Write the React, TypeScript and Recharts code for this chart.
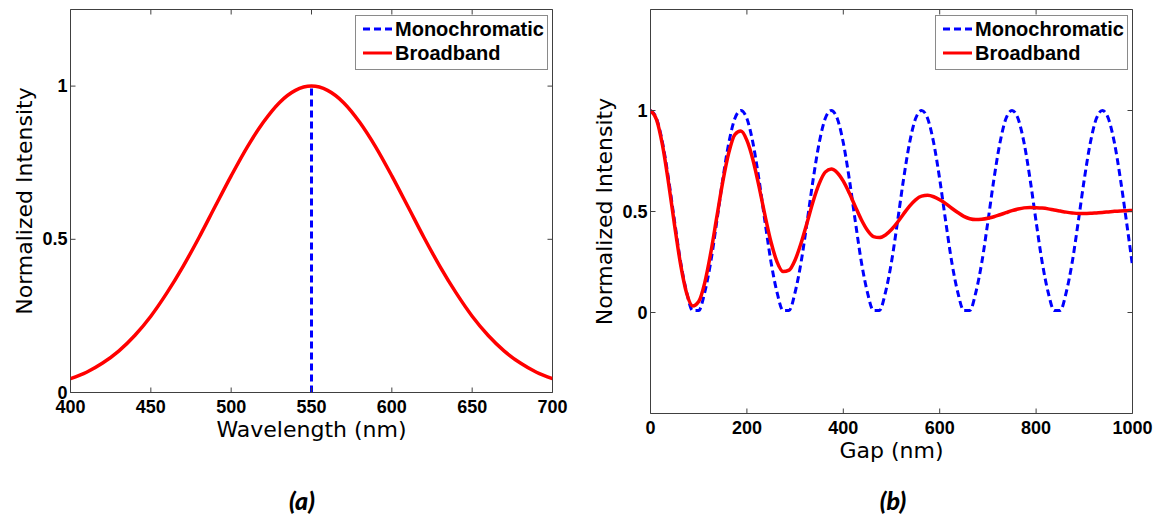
import React from 'react'
import { LineChart, Line, XAxis, YAxis, ReferenceArea, Legend } from 'recharts'

// (a) spectrum
const wavelength = [400, 410, 420, 430, 440, 450, 460, 470, 480, 490, 500, 510, 520, 530, 540, 550,
  560, 570, 580, 590, 600, 610, 620, 630, 640, 650, 660, 670, 680, 690, 700]
const broadbandSpectrum = [0.045, 0.066, 0.096, 0.135, 0.186, 0.249, 0.325, 0.411, 0.506, 0.607, 0.707,
  0.801, 0.882, 0.946, 0.986, 1.0, 0.986, 0.946, 0.882, 0.801, 0.707, 0.607, 0.506, 0.411, 0.325, 0.249,
  0.186, 0.135, 0.096, 0.066, 0.045]
const monoWavelength = [550, 550]
const monoSpectrum = [0, 1]
const wavelengthTicks = [400, 450, 500, 550, 600, 650, 700]

// (b) fringes vs gap
const gap = [0, 12.5, 25, 37.5, 50, 62.5, 75, 87.5, 100, 112.5, 125, 137.5, 150, 162.5, 175, 187.5,
  200, 212.5, 225, 237.5, 250, 262.5, 275, 287.5, 300, 312.5, 325, 337.5, 350, 362.5, 375, 387.5,
  400, 412.5, 425, 437.5, 450, 462.5, 475, 487.5, 500, 512.5, 525, 537.5, 550, 562.5, 575, 587.5,
  600, 612.5, 625, 637.5, 650, 662.5, 675, 687.5, 700, 712.5, 725, 737.5, 750, 762.5, 775, 787.5,
  800, 812.5, 825, 837.5, 850, 862.5, 875, 887.5, 900, 912.5, 925, 937.5, 950, 962.5, 975, 987.5, 1000]
const monoFringe = [
  1, 0.96, 0.84, 0.66, 0.45, 0.25, 0.1, 0.01, 0.01, 0.1, 0.25, 0.45, 0.66, 0.84, 0.96,
  1, 0.96, 0.84, 0.66, 0.45, 0.25, 0.1, 0.01, 0.01, 0.1, 0.25, 0.45, 0.66, 0.84, 0.96,
  1, 0.96, 0.84, 0.66, 0.45, 0.25, 0.1, 0.01, 0.01, 0.1, 0.25, 0.45, 0.66, 0.84, 0.96,
  1, 0.96, 0.84, 0.66, 0.45, 0.25, 0.1, 0.01, 0.01, 0.1, 0.25, 0.45, 0.66, 0.84, 0.96,
  1, 0.96, 0.84, 0.66, 0.45, 0.25, 0.1, 0.01, 0.01, 0.1, 0.25, 0.45, 0.66, 0.84, 0.96,
  1, 0.96, 0.84, 0.66, 0.45, 0.23]
const broadbandFringe = [
  1.0, 0.955, 0.827, 0.64, 0.431, 0.237, 0.095, 0.032, 0.054, 0.147, 0.295, 0.472, 0.648, 0.792, 0.881, 0.898,
  0.852, 0.756, 0.625, 0.481, 0.349, 0.251, 0.203, 0.21, 0.26, 0.344, 0.446, 0.551, 0.638, 0.695, 0.71, 0.692,
  0.65, 0.591, 0.524, 0.459, 0.407, 0.376, 0.371, 0.384, 0.411, 0.447, 0.488, 0.527, 0.558, 0.576, 0.58, 0.573,
  0.558, 0.539, 0.516, 0.495, 0.476, 0.464, 0.46, 0.462, 0.467, 0.474, 0.484, 0.494, 0.504, 0.512, 0.518, 0.52,
  0.519, 0.517, 0.513, 0.507, 0.502, 0.497, 0.493, 0.49, 0.49, 0.491, 0.493, 0.495, 0.498, 0.501, 0.503, 0.504, 0.505]
const gapTicks = [0, 200, 400, 600, 800, 1000]
const intensityTicks = [0, 0.5, 1]
const seriesNames = ['Monochromatic', 'Broadband']

const FONT = '"Liberation Sans", Arial, sans-serif'
const TITLE_FONT = '"DejaVu Sans", sans-serif'
const AXIS = '#404040'
const BLUE = '#0000ff'
const RED = '#ff0000'

function XTick({ x, y, payload, top }: any) {
  return (
    <g>
      <line x1={x} x2={x} y1={y} y2={y - 5} stroke={AXIS} />
      <line x1={x} x2={x} y1={top} y2={top + 5} stroke={AXIS} />
      <text x={x} y={y + 20} textAnchor="middle" fontFamily={FONT} fontWeight="bold" fontSize={18} fill="#000">
        {payload.value}
      </text>
    </g>
  )
}

function YTick({ x, y, payload, right }: any) {
  return (
    <g>
      <line x1={x} x2={x + 5} y1={y} y2={y} stroke={AXIS} />
      <line x1={right} x2={right - 5} y1={y} y2={y} stroke={AXIS} />
      <text x={x - 3} y={y + 6} textAnchor="end" fontFamily={FONT} fontWeight="bold" fontSize={18} fill="#000">
        {payload.value}
      </text>
    </g>
  )
}

const xTitle = (text: string, dy: number) => (props: any) => {
  const vb = props.viewBox
  return (
    <text x={vb.x + vb.width / 2} y={vb.y + dy} textAnchor="middle" fontFamily={TITLE_FONT} fontSize={22} fill="#000">
      {text}
    </text>
  )
}

const yTitle = (text: string, dx: number) => (props: any) => {
  const vb = props.viewBox
  const cx = vb.x + dx
  const cy = vb.y + vb.height / 2
  return (
    <text x={cx} y={cy} transform={`rotate(-90, ${cx}, ${cy})`} textAnchor="middle" fontFamily={TITLE_FONT} fontSize={22} fill="#000">
      {text}
    </text>
  )
}

function LegendBox({ payload }: any) {
  const items = [...(payload || [])].sort(
    (a: any, b: any) => seriesNames.indexOf(a.value) - seriesNames.indexOf(b.value))
  return (
    <div style={{ width: 191, height: 52, border: '1px solid #8a8a8a', background: '#fff', paddingTop: 1 }}>
      {items.map((entry: any) => (
        <div key={entry.value} style={{ display: 'flex', alignItems: 'center', height: 24.5, paddingLeft: 7 }}>
          <svg width={29} height={6} style={{ display: 'block' }}>
            <line x1={0} x2={29} y1={3} y2={3} stroke={entry.color} strokeWidth={3}
              strokeDasharray={entry.payload?.strokeDasharray} />
          </svg>
          <span style={{ marginLeft: 3, fontFamily: FONT, fontWeight: 'bold', fontSize: 20, color: '#000', lineHeight: '20px' }}>
            {entry.value}
          </span>
        </div>
      ))}
    </div>
  )
}

function SpectrumPanel() {
  const broad = wavelength.map((w, i) => ({ wavelength: w, intensity: broadbandSpectrum[i] }))
  const mono = monoWavelength.map((w, i) => ({ wavelength: w, intensity: monoSpectrum[i] }))
  return (
    <LineChart width={580} height={515} margin={{ top: 9.5, right: 27.5, bottom: 72.5, left: 0 }}>
      <XAxis type="number" dataKey="wavelength" domain={[400, 700]} ticks={wavelengthTicks} interval={0}
        height={50} axisLine={false} tickLine={false} tickSize={0} tickMargin={0} allowDataOverflow
        tick={<XTick top={9.5} />} label={xTitle('Wavelength (nm)', 44)} />
      <YAxis type="number" domain={[0, 1.25]} ticks={intensityTicks} interval={0}
        width={70.5} axisLine={false} tickLine={false} tickSize={0} tickMargin={0} allowDataOverflow
        tick={<YTick right={552.5} />} label={yTitle('Normalized Intensity', 32)} />
      <ReferenceArea x1={400} x2={700} y1={0} y2={1.25} fill="none" fillOpacity={0} stroke={AXIS} strokeOpacity={1} />
      <Line data={mono} dataKey="intensity" name={seriesNames[0]} type="linear" stroke={BLUE} strokeWidth={3}
        strokeDasharray="7 4" dot={false} activeDot={false} isAnimationActive={false} />
      <Line data={broad} dataKey="intensity" name={seriesNames[1]} type="monotone" stroke={RED} strokeWidth={3.5}
        dot={false} activeDot={false} isAnimationActive={false} />
      <Legend layout="horizontal" verticalAlign="middle" align="center" content={<LegendBox />}
        wrapperStyle={{ top: 14.5, left: 355, width: 193, height: 54 }} />
    </LineChart>
  )
}

function FringePanel() {
  const rows = gap.map((g, i) => ({ gap: g, mono: monoFringe[i], broad: broadbandFringe[i] }))
  return (
    <LineChart width={580} height={515} data={rows} margin={{ top: 9.5, right: 25.5, bottom: 51.5, left: 0 }}>
      <XAxis type="number" dataKey="gap" domain={[0, 1000]} ticks={gapTicks} interval={0}
        height={50} axisLine={false} tickLine={false} tickSize={0} tickMargin={0} allowDataOverflow
        tick={<XTick top={9.5} />} label={xTitle('Gap (nm)', 44)} />
      <YAxis type="number" domain={[-0.5, 1.5]} ticks={intensityTicks} interval={0}
        width={72.5} axisLine={false} tickLine={false} tickSize={0} tickMargin={0} allowDataOverflow
        tick={<YTick right={554.5} />} label={yTitle('Normalized Intensity', 34)} />
      <ReferenceArea x1={0} x2={1000} y1={-0.5} y2={1.5} fill="none" fillOpacity={0} stroke={AXIS} strokeOpacity={1} />
      <Line dataKey="mono" name={seriesNames[0]} type="monotone" stroke={BLUE} strokeWidth={3}
        strokeDasharray="7 4" dot={false} activeDot={false} isAnimationActive={false} />
      <Line dataKey="broad" name={seriesNames[1]} type="monotone" stroke={RED} strokeWidth={3.5}
        dot={false} activeDot={false} isAnimationActive={false} />
      <Legend layout="horizontal" verticalAlign="middle" align="center" content={<LegendBox />}
        wrapperStyle={{ top: 14.5, left: 357, width: 193, height: 54 }} />
    </LineChart>
  )
}

const captionStyle: React.CSSProperties = {
  position: 'absolute', top: 485, fontFamily: 'Lato, "Open Sans", sans-serif', fontWeight: 900,
  fontStyle: 'italic', fontSize: 25, lineHeight: '30px', color: '#000', width: 60, textAlign: 'center',
}

export default function App() {
  return (
    <div style={{ position: 'absolute', left: 0, top: 0, width: 1158, height: 515, background: '#fff', overflow: 'hidden' }}>
      <div style={{ position: 'absolute', left: 0, top: 0 }}>
        <SpectrumPanel />
      </div>
      <div style={{ position: 'absolute', left: 578, top: 0 }}>
        <FringePanel />
      </div>
      <div style={{ ...captionStyle, left: 272 }}>(a)</div>
      <div style={{ ...captionStyle, left: 863 }}>(b)</div>
    </div>
  )
}
